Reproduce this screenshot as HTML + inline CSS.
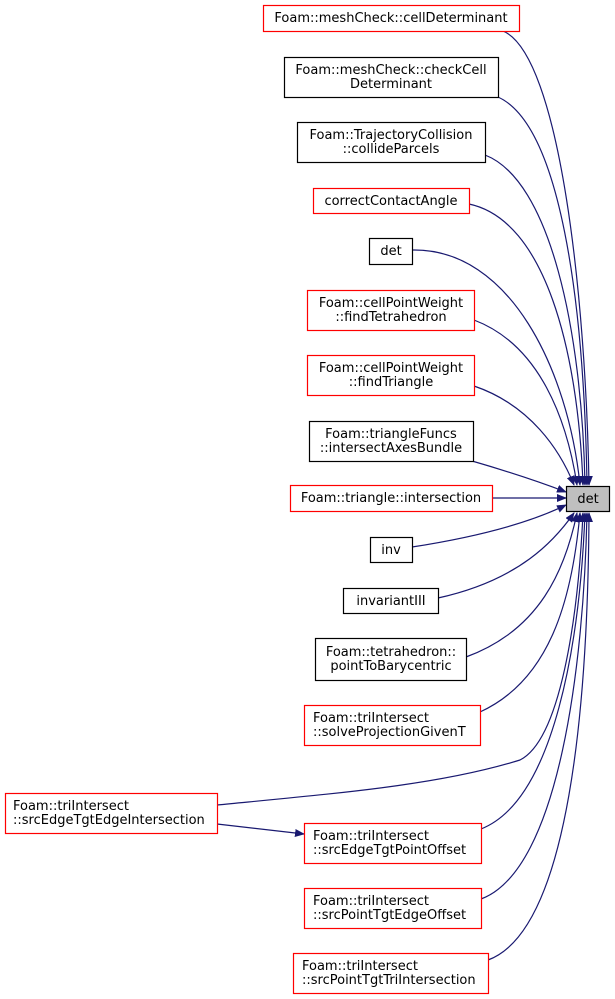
<!DOCTYPE html>
<html><head><meta charset="utf-8"><style>
html,body{margin:0;padding:0;background:#fff;}
svg{display:block;}
text{font-family:"DejaVu Sans","Liberation Sans",sans-serif;font-size:13px;fill:#000;}
</style></head><body>
<svg width="615" height="999" viewBox="0 0 615 999" xmlns="http://www.w3.org/2000/svg">
<defs><marker id="a" markerWidth="10" markerHeight="8" refX="9" refY="4" orient="auto" markerUnits="userSpaceOnUse"><path d="M0,0 L10,4 L0,8 z" fill="#191970"/></marker></defs>
<g fill="none" stroke="#191970" stroke-width="1.2" marker-end="url(#a)">
<path d="M503,31 C560,55 586,300 589,485"/>
<path d="M498,97 C560,125 584,300 587,485"/>
<path d="M485,155 C550,180 582,330 585,485"/>
<path d="M469,204 C545,220 578,350 583,485"/>
<path d="M412,250 C510,248 568,370 580,485"/>
<path d="M474,320 C540,345 567,420 577,485"/>
<path d="M474,386 C530,405 560,450 574,485"/>
<path d="M472,461 C510,472 540,482 566,492"/>
<path d="M492,498 L566,498"/>
<path d="M412,547 C470,538 525,525 566,505"/>
<path d="M438,598 C520,580 555,540 574,513"/>
<path d="M466,657 C540,630 565,570 577,513"/>
<path d="M480,712 C550,680 572,600 580,513"/>
<path d="M217,805 C340,793 440,785 520,760 C560,740 578,620 583,513"/>
<path d="M481,829 C555,800 580,640 585,513"/>
<path d="M481,899 C560,870 584,660 587,513"/>
<path d="M488,960 C570,930 588,700 589,513"/>
<path d="M217,824 L304,834"/>
</g>
<g stroke-width="1.2">
<rect x="263.5" y="5.5" width="256" height="26" fill="#fff" stroke="#ff0000"/>
<rect x="284.5" y="57.5" width="214" height="40" fill="#fff" stroke="#000"/>
<rect x="297.5" y="122.5" width="188" height="40" fill="#fff" stroke="#000"/>
<rect x="313.5" y="188.5" width="156" height="25" fill="#fff" stroke="#ff0000"/>
<rect x="369.5" y="238.5" width="43" height="26" fill="#fff" stroke="#000"/>
<rect x="307.5" y="290.5" width="167" height="40" fill="#fff" stroke="#ff0000"/>
<rect x="307.5" y="355.5" width="167" height="40" fill="#fff" stroke="#ff0000"/>
<rect x="309.5" y="421.5" width="164" height="40" fill="#fff" stroke="#000"/>
<rect x="290.5" y="485.5" width="202" height="26" fill="#fff" stroke="#ff0000"/>
<rect x="370.5" y="537.5" width="42" height="25" fill="#fff" stroke="#000"/>
<rect x="343.5" y="588.5" width="95" height="25" fill="#fff" stroke="#000"/>
<rect x="315.5" y="638.5" width="151" height="42" fill="#fff" stroke="#000"/>
<rect x="304.5" y="705.5" width="176" height="40" fill="#fff" stroke="#ff0000"/>
<rect x="5.5" y="793.5" width="212" height="40" fill="#fff" stroke="#ff0000"/>
<rect x="304.5" y="823.5" width="177" height="40" fill="#fff" stroke="#ff0000"/>
<rect x="304.5" y="888.5" width="177" height="40" fill="#fff" stroke="#ff0000"/>
<rect x="293.5" y="953.5" width="195" height="40" fill="#fff" stroke="#ff0000"/>
<rect x="566.5" y="486.5" width="43" height="25" fill="#bfbfbf" stroke="#000"/>
</g>
<g text-anchor="middle">
<text x="391" y="22">Foam::meshCheck::cellDeterminant</text>
<text x="391" y="74">Foam::meshCheck::checkCell</text>
<text x="391" y="88">Determinant</text>
<text x="391" y="139">Foam::TrajectoryCollision</text>
<text x="391" y="153">::collideParcels</text>
<text x="391" y="205">correctContactAngle</text>
<text x="391" y="255">det</text>
<text x="391" y="307">Foam::cellPointWeight</text>
<text x="391" y="321">::findTetrahedron</text>
<text x="391" y="372">Foam::cellPointWeight</text>
<text x="391" y="386">::findTriangle</text>
<text x="391" y="438">Foam::triangleFuncs</text>
<text x="391" y="452">::intersectAxesBundle</text>
<text x="391" y="502">Foam::triangle::intersection</text>
<text x="391" y="554">inv</text>
<text x="391" y="605">invariantIII</text>
<text x="391" y="656">Foam::tetrahedron::</text>
<text x="391" y="670">pointToBarycentric</text>
<text x="588" y="503">det</text>
</g>
<g>
<text x="313" y="722">Foam::triIntersect</text>
<text x="313" y="736">::solveProjectionGivenT</text>
<text x="13" y="810">Foam::triIntersect</text>
<text x="13" y="824">::srcEdgeTgtEdgeIntersection</text>
<text x="313" y="840">Foam::triIntersect</text>
<text x="313" y="854">::srcEdgeTgtPointOffset</text>
<text x="313" y="905">Foam::triIntersect</text>
<text x="313" y="919">::srcPointTgtEdgeOffset</text>
<text x="302" y="970">Foam::triIntersect</text>
<text x="302" y="984">::srcPointTgtTriIntersection</text>
</g>
</svg>
</body></html>
